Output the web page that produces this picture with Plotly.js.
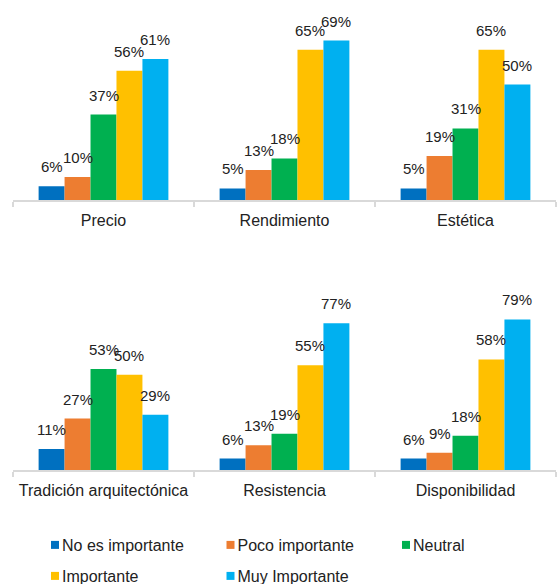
<!DOCTYPE html>
<html><head><meta charset="utf-8">
<script src="https://cdn.plot.ly/plotly-3.0.1.min.js"></script>
<style>html,body{margin:0;padding:0;background:#fff;} #chart{width:557px;height:584px;}</style>
</head><body><div id="chart"></div>
<script>
const categories = ['Precio','Rendimiento','Estética','Tradición arquitectónica','Resistencia','Disponibilidad'];
const seriesNames = ['No es importante','Poco importante','Neutral','Importante','Muy Importante'];
const noEsImportante = [6,5,5,11,6,6];
const pocoImportante = [10,13,19,27,13,9];
const neutral = [37,18,31,53,19,18];
const importante = [56,65,65,50,55,58];
const muyImportante = [61,69,50,29,77,79];
const seriesColors = ['#0070C0','#ED7D31','#00B050','#FFC000','#00B0F0'];
const seriesValues = [noEsImportante,pocoImportante,neutral,importante,muyImportante];

const W = 557, H = 584;
const FONT = '"Liberation Sans", Arial, Helvetica, sans-serif';
const TXT = '#222222';
const xDom = [13/W, 556/W];
const BARGAP = 0.283;
const catPx = (xDom[1]-xDom[0])*W/3;
const barPx = catPx*(1-BARGAP)/5;

const rows = [
  {xa:'x', ya:'y', idx:[0,1,2]},
  {xa:'x2', ya:'y2', idx:[3,4,5]}
];
const traces = [];
const annotations = [];
rows.forEach((r, ri) => {
  seriesNames.forEach((name, j) => {
    const xs = r.idx.map(i => categories[i]);
    const ys = r.idx.map(i => seriesValues[j][i]);
    traces.push({
      type:'bar', name:name, x:xs, y:ys, xaxis:r.xa, yaxis:r.ya,
      marker:{color:seriesColors[j], line:{width:0}},
      showlegend: ri === 0, legend: j < 3 ? 'legend' : 'legend2',
      hoverinfo:'skip'
    });
    xs.forEach((c, k) => {
      annotations.push({
        xref:r.xa, yref:r.ya, x:c, y:ys[k], text: ys[k] + '%', showarrow:false,
        xanchor:'center', yanchor:'bottom', xshift:(j-2)*barPx, yshift:9,
        font:{family:FONT, size:15, color:TXT}
      });
    });
  });
});

const xaxisBase = {
  type:'category', domain:xDom, showline:true, linecolor:'#d9d9d9', linewidth:1.5,
  ticks:'outside', tickson:'boundaries', ticklen:5, tickcolor:'#d9d9d9', tickwidth:1.5,
  showgrid:false, zeroline:false, fixedrange:true, automargin:false,
  ticklabelstandoff:5,
  tickfont:{family:FONT, size:16, color:TXT}
};
const legendBase = {
  orientation:'h', xanchor:'left', yanchor:'top', entrywidth:130.5, entrywidthmode:'pixels',
  font:{family:FONT, size:16, color:TXT}, bgcolor:'rgba(0,0,0,0)', borderwidth:0,
  x:22/W
};
const layout = {
  width:W, height:H, margin:{l:0, r:0, t:0, b:0, pad:0, autoexpand:false},
  paper_bgcolor:'#ffffff', plot_bgcolor:'#ffffff',
  barmode:'group', bargap:BARGAP, bargroupgap:0,
  font:{family:FONT, color:TXT},
  xaxis:Object.assign({}, xaxisBase, {anchor:'y'}),
  yaxis:{domain:[1-200/H, 1-200/H + 80*2.31/H], range:[0,80], visible:false, fixedrange:true},
  xaxis2:Object.assign({}, xaxisBase, {anchor:'y2'}),
  yaxis2:{domain:[1-470/H, 1-470/H + 100*1.906/H], range:[0,100], visible:false, fixedrange:true},
  legend:Object.assign({}, legendBase, {y:1-528/H}),
  legend2:Object.assign({}, legendBase, {y:1-559/H}),
  annotations:annotations
};

Plotly.newPlot('chart', traces, layout, {displayModeBar:false, staticPlot:true}).then(gd => {
  gd.querySelectorAll('.legendpoints path').forEach(p => {
    p.setAttribute('d', 'M4,4H-4V-4H4Z');
    p.setAttribute('transform', 'translate(33,0)');
  });
});
</script>
</body></html>
